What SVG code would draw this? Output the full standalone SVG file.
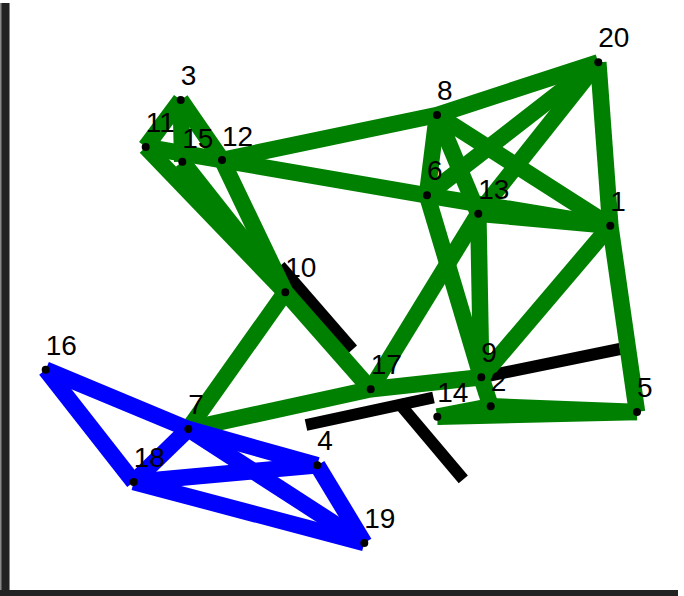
<svg xmlns="http://www.w3.org/2000/svg" width="684" height="596" viewBox="0 0 684 596">
<style>
.g line{stroke:#008000;stroke-width:16.5;stroke-linecap:butt}
.b line{stroke:#0000ff;stroke-width:16.5;stroke-linecap:butt}
.k line{stroke:#000;stroke-width:12;stroke-linecap:butt}
.node circle{fill:#000}
.node text{font-family:"Liberation Sans",Arial,sans-serif;font-size:28px;fill:#000}
</style>
<rect x="0" y="0" width="684" height="596" fill="#fff"/>
<rect x="0" y="3" width="10" height="593" fill="#888"/>
<rect x="1.5" y="3" width="7.5" height="593" fill="#222"/>
<rect x="0" y="590" width="678" height="6" fill="#222"/>
<g id="connectors">
<g class="k">
<line x1="280" y1="266" x2="352.5" y2="349.5"/>
<line x1="306" y1="425" x2="433.5" y2="397.5"/>
<line x1="398" y1="402" x2="463.3" y2="479.3"/>
<line x1="481.3" y1="377.3" x2="620" y2="349"/>
</g>
<g class="g">
<line x1="180.7" y1="100" x2="145.7" y2="147"/>
<line x1="180.7" y1="100" x2="182.3" y2="161.7"/>
<line x1="180.7" y1="100" x2="222" y2="160"/>
<line x1="145.7" y1="147" x2="285.3" y2="292.3"/>
<line x1="182.3" y1="161.7" x2="285.3" y2="292.3"/>
<line x1="222" y1="160" x2="285.3" y2="292.3"/>
<line x1="145.7" y1="147" x2="427" y2="195.3"/>
<line x1="427" y1="195.3" x2="610.3" y2="225.7"/>
<line x1="222" y1="160" x2="437" y2="115"/>
<line x1="437" y1="115" x2="598.3" y2="62.3"/>
<line x1="437" y1="115" x2="427" y2="195.3"/>
<line x1="437" y1="115" x2="478.3" y2="213.7"/>
<line x1="437" y1="115" x2="610.3" y2="225.7"/>
<line x1="427" y1="195.3" x2="598.3" y2="62.3"/>
<line x1="478.3" y1="213.7" x2="598.3" y2="62.3"/>
<line x1="598.3" y1="62.3" x2="610.3" y2="225.7"/>
<line x1="610.3" y1="225.7" x2="637" y2="412"/>
<line x1="478.3" y1="213.7" x2="610.3" y2="225.7"/>
<line x1="427" y1="195.3" x2="481.3" y2="377.3"/>
<line x1="478.3" y1="213.7" x2="481.3" y2="377.3"/>
<line x1="478.3" y1="213.7" x2="370.7" y2="389.3"/>
<line x1="481.3" y1="377.3" x2="610.3" y2="225.7"/>
<line x1="481.3" y1="377.3" x2="490.7" y2="406.3"/>
<line x1="370.7" y1="389.3" x2="481.3" y2="377.3"/>
<line x1="285.3" y1="292.3" x2="188.3" y2="429"/>
<line x1="285.3" y1="292.3" x2="370.7" y2="389.3"/>
<line x1="188.3" y1="429" x2="370.7" y2="389.3"/>
<line x1="490.7" y1="406.3" x2="637" y2="412"/>
<line x1="437.3" y1="416.7" x2="637" y2="412"/>
<line x1="437.3" y1="416.7" x2="490.7" y2="406.3"/>
</g>
<g class="b">
<line x1="45.7" y1="369.7" x2="188.3" y2="429"/>
<line x1="45.7" y1="369.7" x2="133.7" y2="482"/>
<line x1="133.7" y1="482" x2="188.3" y2="429"/>
<line x1="188.3" y1="429" x2="317.3" y2="465.3"/>
<line x1="188.3" y1="429" x2="364.3" y2="543"/>
<line x1="133.7" y1="482" x2="317.3" y2="465.3"/>
<line x1="133.7" y1="482" x2="364.3" y2="543"/>
<line x1="317.3" y1="465.3" x2="364.3" y2="543"/>
</g>
</g>
<g id="n1" class="node"><circle cx="610.3" cy="225.7" r="4"/><text x="610.3" y="211">1</text></g>
<g id="n2" class="node"><circle cx="490.7" cy="406.3" r="4"/><text x="490.7" y="391">2</text></g>
<g id="n3" class="node"><circle cx="180.7" cy="100" r="4"/><text x="180.7" y="85">3</text></g>
<g id="n4" class="node"><circle cx="317.3" cy="465.3" r="4"/><text x="317.3" y="450">4</text></g>
<g id="n5" class="node"><circle cx="637" cy="412" r="4"/><text x="637" y="397">5</text></g>
<g id="n6" class="node"><circle cx="427" cy="195.3" r="4"/><text x="427" y="180">6</text></g>
<g id="n7" class="node"><circle cx="188.3" cy="429" r="4"/><text x="188.3" y="414">7</text></g>
<g id="n8" class="node"><circle cx="437" cy="115" r="4"/><text x="437" y="100">8</text></g>
<g id="n9" class="node"><circle cx="481.3" cy="377.3" r="4"/><text x="481.3" y="362">9</text></g>
<g id="n10" class="node"><circle cx="285.3" cy="292.3" r="4"/><text x="285.3" y="277">10</text></g>
<g id="n11" class="node"><circle cx="145.7" cy="147" r="4"/><text x="145.7" y="132">11</text></g>
<g id="n12" class="node"><circle cx="222" cy="160" r="4"/><text x="222" y="146">12</text></g>
<g id="n13" class="node"><circle cx="478.3" cy="213.7" r="4"/><text x="478.3" y="199">13</text></g>
<g id="n14" class="node"><circle cx="437.3" cy="416.7" r="4"/><text x="437.3" y="402">14</text></g>
<g id="n15" class="node"><circle cx="182.3" cy="161.7" r="4"/><text x="182.3" y="148">15</text></g>
<g id="n16" class="node"><circle cx="45.7" cy="369.7" r="4"/><text x="45.7" y="355">16</text></g>
<g id="n17" class="node"><circle cx="370.7" cy="389.3" r="4"/><text x="370.7" y="374">17</text></g>
<g id="n18" class="node"><circle cx="133.7" cy="482" r="4"/><text x="133.7" y="467">18</text></g>
<g id="n19" class="node"><circle cx="364.3" cy="543" r="4"/><text x="364.3" y="528">19</text></g>
<g id="n20" class="node"><circle cx="598.3" cy="62.3" r="4"/><text x="598.3" y="47">20</text></g>
</svg>
